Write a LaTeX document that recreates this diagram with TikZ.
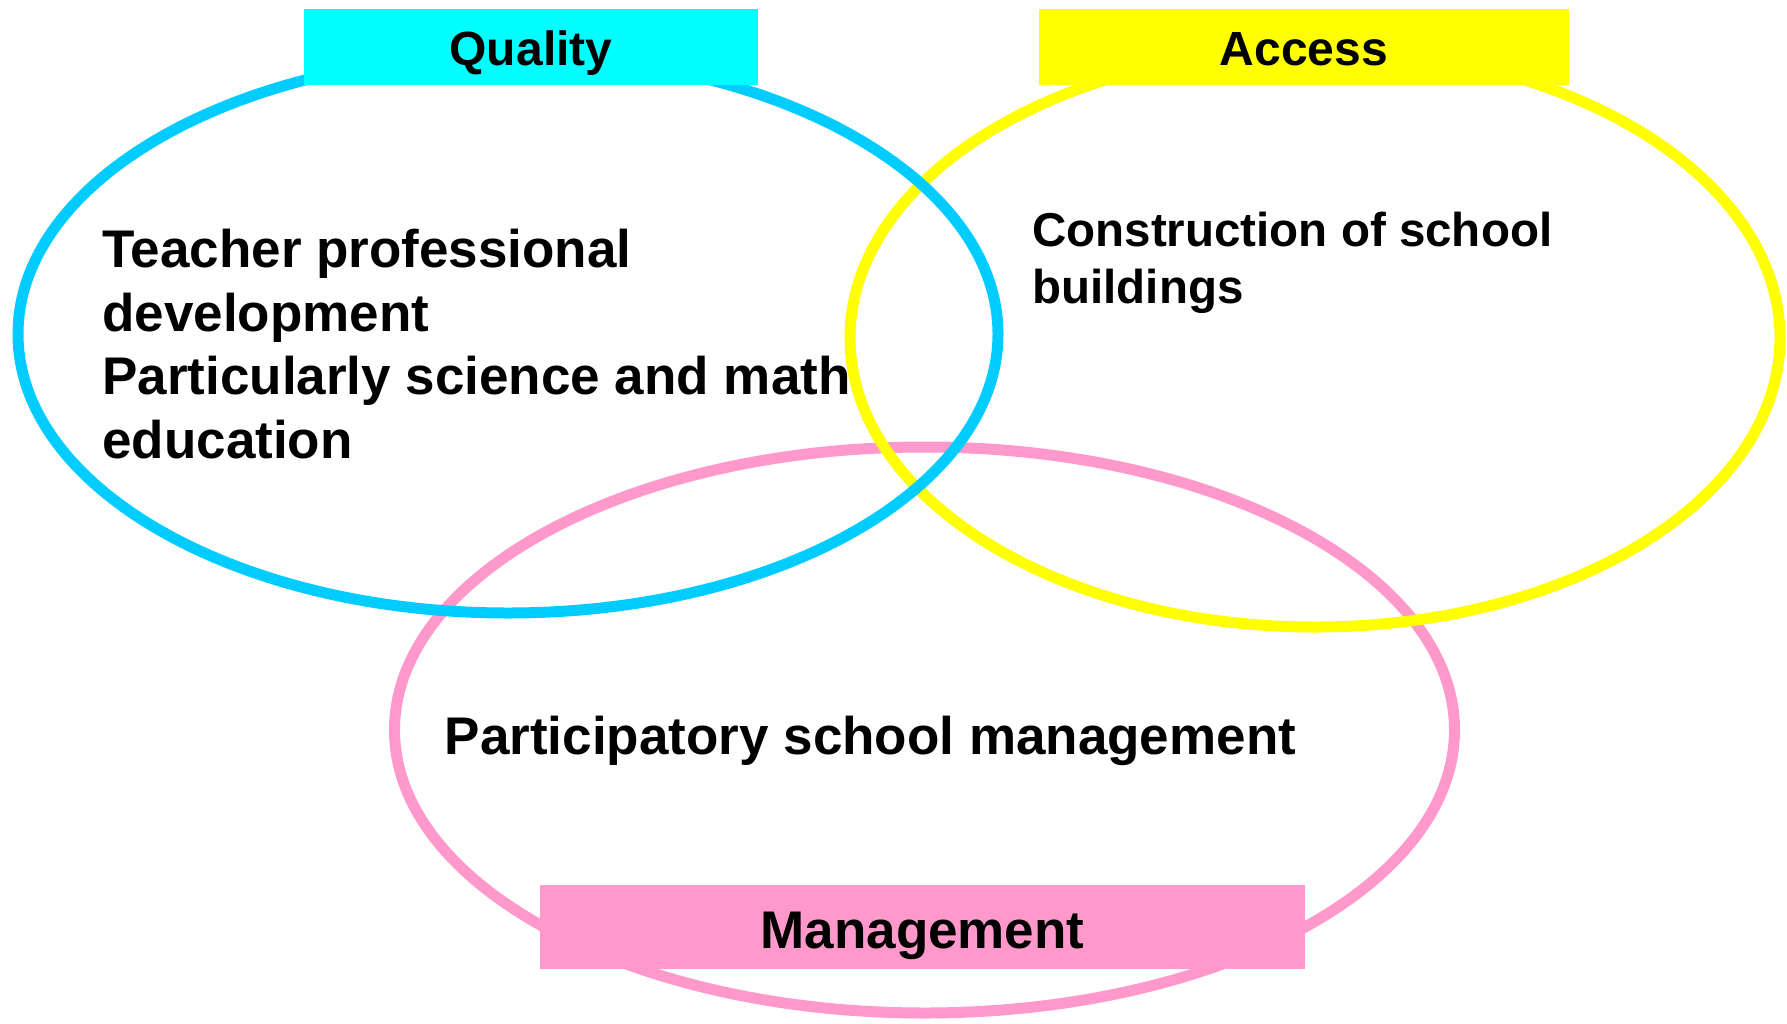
\documentclass[tikz,border=0pt]{standalone}
\usepackage{fontspec}
\setmainfont{Liberation Sans}
\definecolor{qualityblue}{HTML}{00CCFF}
\definecolor{qualitycyan}{HTML}{00FFFF}
\definecolor{accessyellow}{HTML}{FFFF00}
\definecolor{mgmtpink}{HTML}{FF99CC}

\begin{document}
\begin{tikzpicture}[x=0.5pt,y=-0.5pt,
    ring/.style={line width=5.5pt},
    tag/.style={inner sep=0pt,font=\bfseries\fontsize{24}{28.8}\selectfont,
                text height=21pt,text depth=3pt},
    body/.style={inner sep=0pt,anchor=base west,align=left,
                 font=\bfseries\fontsize{26.5}{31.75}\selectfont}]
  \useasboundingbox (0,0) rectangle (1787,1023);
  \draw[ring,mgmtpink]     (924.5,730) ellipse [x radius=530,y radius=283];
  \draw[ring,accessyellow] (1315,338)  ellipse [x radius=465,y radius=289];
  \draw[ring,qualityblue]  (508,334)   ellipse [x radius=490,y radius=279];

  \node[tag,fill=qualitycyan,minimum width=227pt,minimum height=38pt] (quality) at (531,47) {Quality};
  \node[tag,fill=accessyellow,minimum width=265pt,minimum height=38pt] (access) at (1304,47) {Access};
  \node[tag,fill=mgmtpink,minimum width=382.5pt,minimum height=42pt,
        font=\bfseries\fontsize{26.5}{31.75}\selectfont,text height=22pt,text depth=1pt] (mgmt) at (922.5,927) {Management};

  \node[body] (teacher) at (102,458) {Teacher professional\\development\\Particularly science and math\\education};
  \node[body,font=\bfseries\fontsize{23.75}{28.5}\selectfont] (build) at (1032,303) {Construction of school\\buildings};
  \node[body] (partic) at (444.5,754) {Participatory school management};
\end{tikzpicture}
\end{document}
